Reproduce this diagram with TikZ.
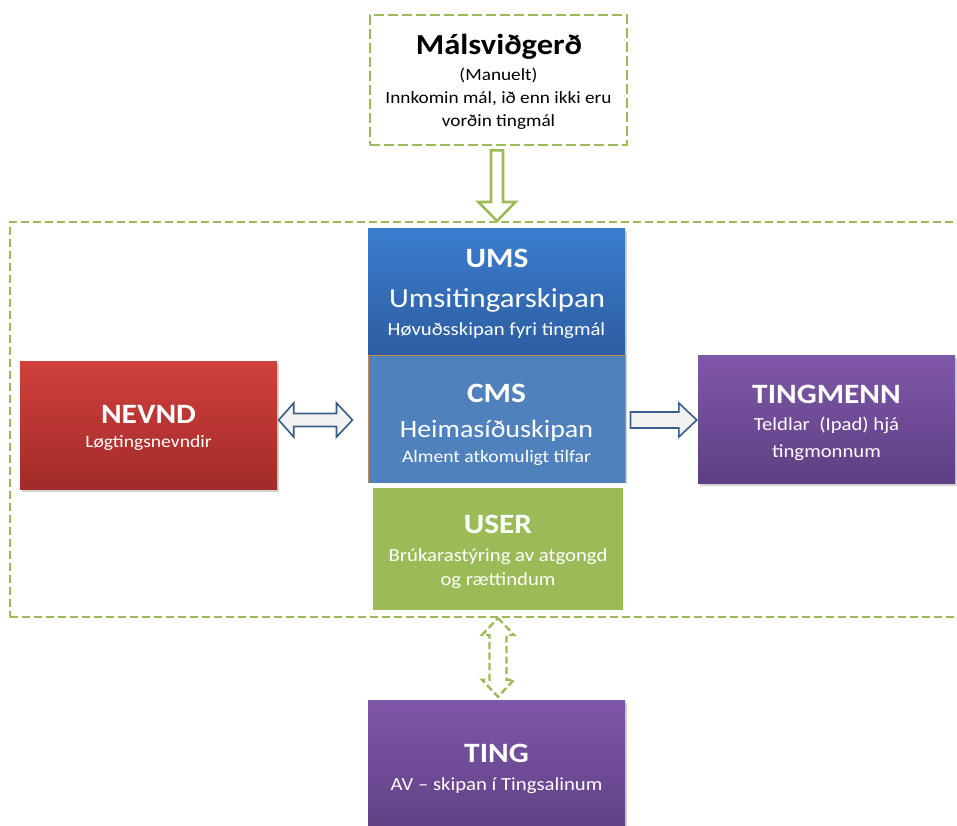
\documentclass[tikz,border=0pt]{standalone}
\usepackage{fontspec}
\setmainfont{Carlito}[FakeStretch=1.12]
\usetikzlibrary{calc,shadows}
\definecolor{lgreen}{HTML}{9BBB59}
\definecolor{umsTop}{HTML}{3A7DCF}
\definecolor{umsBot}{HTML}{2D5DA0}
\definecolor{cmsFill}{HTML}{4F81BD}
\definecolor{cmsLine}{HTML}{C98B55}
\definecolor{redTop}{HTML}{D0403C}
\definecolor{redBot}{HTML}{A22B29}
\definecolor{purTop}{HTML}{7E58A8}
\definecolor{purBot}{HTML}{5F3F83}
\definecolor{arrowBlue}{HTML}{385D8A}
\definecolor{arrowFill}{HTML}{F2F2F2}
\tikzset{
  framebox/.style={draw=lgreen, line width=2pt, dash pattern=on 8pt off 4pt, inner sep=0pt},
  topbox/.style={draw=lgreen, line width=2.8pt, dash pattern=on 10pt off 4pt, inner sep=0pt, fill=white},
  colbox/.style={minimum width=257pt, minimum height=128pt, inner sep=0pt,
     drop shadow={opacity=0.35, shadow xshift=1.5pt, shadow yshift=-2.5pt}},
  ttl/.style={anchor=base, text=white, inner sep=0pt, font=\fontsize{28}{32}\selectfont\bfseries},
  sub/.style={anchor=base, text=white, inner sep=0pt, font=\fontsize{27}{31}\selectfont},
  sml/.style={anchor=base, text=white, inner sep=0pt, font=\fontsize{18.5}{22}\selectfont},
  smlb/.style={sml, font=\fontsize{17.5}{21}\selectfont},
  blk/.style={anchor=base, text=black, inner sep=0pt, font=\fontsize{17.2}{20}\selectfont},
  harrow/.style={draw=arrowBlue, fill=arrowFill, line width=1.6pt, line join=miter},
  garrow/.style={draw=lgreen, fill=white, line width=2.6pt, line join=miter},
  gdarrow/.style={draw=lgreen, fill=white, line width=2.4pt, line join=miter, dash pattern=on 7pt off 3.5pt},
}
\begin{document}
\begin{tikzpicture}[x=1pt, y=-1pt]
\useasboundingbox (0,0) rectangle (957,826);
\clip (0,0) rectangle (957,826);
\fill[white] (0,0) rectangle (957,826);

% big dashed frame
\node[framebox, minimum width=970pt, minimum height=395pt] (frame) at (495,419.5) {};

% top box
\node[topbox, minimum width=257pt, minimum height=130pt] (mal) at (498.5,80) {};
\node[anchor=base, inner sep=0pt, font=\fontsize{29}{33}\selectfont\bfseries] (malA) at (499,55) {Málsviðgerð};
\node[blk] (malB) at (498.5,81) {(Manuelt)};
\node[blk] (malC) at (498.5,104) {Innkomin mál, ið enn ikki eru};
\node[blk] (malD) at (498.5,127) {vorðin tingmál};

% top arrow
\coordinate (tS) at ($(mal.south)+(-1.5,4)$);
\coordinate (tT) at (tS |- frame.north);
\draw[garrow] ($(tS)+(-6,0)$) -- ($(tT)+(-6,-19)$) -- ($(tT)+(-18.5,-19)$) -- (tT)
   -- ($(tT)+(18.5,-19)$) -- ($(tT)+(6,-19)$) -- ($(tS)+(6,0)$) -- cycle;

% UMS
\node[colbox, minimum height=127pt, top color=umsTop, bottom color=umsBot] (ums) at (496.5,291.5) {};
\node[ttl] (umsA) at (497,267) {UMS};
\node[sub, font=\fontsize{27.5}{31}\selectfont] (umsB) at (497,307) {Umsitingarskipan};
\node[sml] (umsC) at (496.5,335) {Høvuðsskipan fyri tingmál};

% CMS
\node[colbox, fill=cmsFill, draw=cmsLine, line width=1pt] (cms) at (496.5,419) {};
\node[ttl] (cmsA) at (496.5,402) {CMS};
\node[sub, font=\fontsize{25}{29}\selectfont] (cmsB) at (496.5,437) {Heimasíðuskipan};
\node[smlb] (cmsC) at (496.5,462) {Alment atkomuligt tilfar};

% USER
\node[colbox, minimum width=255pt, minimum height=127pt, fill=lgreen, draw=white, line width=5pt] (user) at (498,549) {};
\node[ttl] (userA) at (498,533) {USER};
\node[sml] (userB) at (498,561) {Brúkarastýring av atgongd};
\node[sml] (userC) at (498,585) {og rættindum};

% NEVND
\node[colbox, top color=redTop, bottom color=redBot] (nevnd) at (148.5,425) {};
\node[ttl] (nevA) at (148.5,423) {NEVND};
\node[smlb] (nevB) at (148.5,447) {Løgtingsnevndir};

% TINGMENN
\node[colbox, top color=purTop, bottom color=purBot] (tingmenn) at (826.5,419) {};
\node[ttl] (tmA) at (826.5,403) {TINGMENN};
\node[sml] (tmB) at (826.5,430) {Teldlar \ (Ipad) hjá};
\node[sml] (tmC) at (826.5,457) {tingmonnum};

% TING
\node[colbox, minimum height=140pt, top color=purTop, bottom color=purBot] (ting) at (496.5,770) {};
\node[ttl] (tiA) at (496.5,762) {TING};
\node[sml] (tiB) at (496.5,790) {AV -- skipan í Tingsalinum};

% double arrow NEVND <-> CMS
\coordinate (dL) at ($(nevnd.east)+(1.5,-5)$);
\coordinate (dR) at ($(cms.west)+(-15,1)$);
\draw[harrow] (dL) -- ($(dL)+(15,-17)$) -- ($(dL)+(15,-6.5)$) -- ($(dR)+(-16,-6.5)$)
   -- ($(dR)+(-16,-17)$) -- (dR) -- ($(dR)+(-16,17)$) -- ($(dR)+(-16,6.5)$)
   -- ($(dL)+(15,6.5)$) -- ($(dL)+(15,17)$) -- cycle;

% arrow CMS -> TINGMENN
\coordinate (rS) at ($(cms.east)+(5,1)$);
\coordinate (rT) at ($(tingmenn.west)+(-1,1)$);
\draw[harrow] ($(rS)+(0,-8)$) -- ($(rT)+(-18,-8)$) -- ($(rT)+(-18,-17)$) -- (rT)
   -- ($(rT)+(-18,17)$) -- ($(rT)+(-18,8)$) -- ($(rS)+(0,8)$) -- cycle;

% dashed double arrow USER <-> TING
\coordinate (bU) at ($(user.south)+(0,3)$);
\coordinate (bD) at ($(ting.north)+(1.5,-3)$);
\draw[gdarrow] (bU) -- ($(bU)+(16,17)$) -- ($(bU)+(8.5,17)$) -- ($(bD)+(8.5,-17)$)
   -- ($(bD)+(16,-17)$) -- (bD) -- ($(bD)+(-16,-17)$) -- ($(bD)+(-8.5,-17)$)
   -- ($(bU)+(-8.5,17)$) -- ($(bU)+(-16,17)$) -- cycle;
\end{tikzpicture}
\end{document}
